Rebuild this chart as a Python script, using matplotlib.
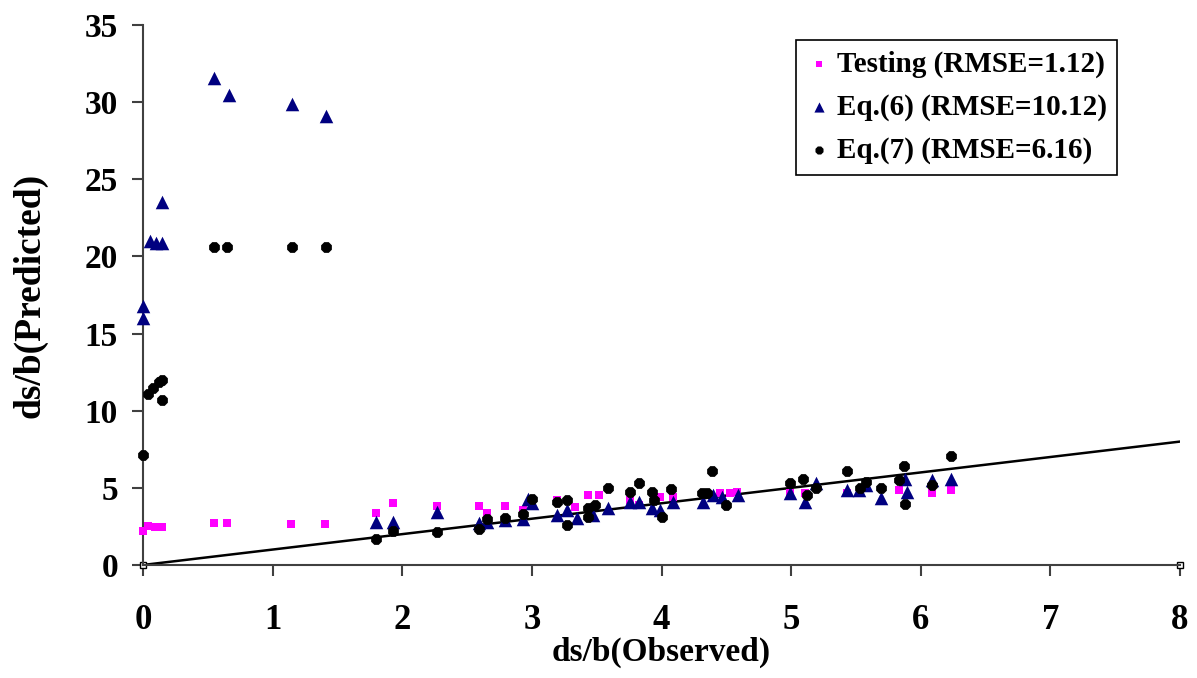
import matplotlib
matplotlib.use('Agg')
import matplotlib.pyplot as plt

# Testing (magenta squares)
test_x = [0.0, 0.04, 0.09, 0.15, 0.55, 0.65, 1.14, 1.40, 1.80, 1.93, 2.27, 2.59, 2.65,
          2.79, 2.93, 3.19, 3.33, 3.43, 3.52, 3.76, 3.83, 3.99, 4.09, 4.45, 4.53, 4.58,
          4.99, 5.11, 5.43, 5.58, 5.83, 6.09, 6.23]
test_y = [2.2, 2.5, 2.45, 2.45, 2.7, 2.7, 2.65, 2.65, 3.4, 4.0, 3.8, 3.8, 3.4,
          3.8, 3.55, 4.2, 3.75, 4.55, 4.55, 4.2, 3.9, 4.4, 4.4, 4.65, 4.65, 4.75,
          4.65, 4.65, 4.65, 5.0, 4.85, 4.65, 4.85]

# Eq.(6) (navy triangles)
eq6_x = [0.0, 0.0, 0.05, 0.10, 0.15, 0.15, 0.55, 0.66, 1.15, 1.41,
         1.80, 1.93, 2.27, 2.59, 2.65, 2.79, 2.93, 2.97, 3.00, 3.19, 3.27, 3.35,
         3.47, 3.59, 3.76, 3.83, 3.93, 3.99, 4.09, 4.32, 4.40, 4.47, 4.59, 4.99,
         5.11, 5.19, 5.43, 5.52, 5.58, 5.69, 5.88, 5.89, 6.09, 6.23]
eq6_y = [16.8, 16.0, 21.0, 20.9, 20.85, 23.5, 31.6, 30.5, 29.9, 29.1,
         2.8, 2.8, 3.45, 2.7, 2.8, 2.9, 3.0, 4.3, 4.0, 3.25, 3.55, 3.05,
         3.25, 3.7, 4.1, 4.1, 3.7, 3.55, 4.1, 4.1, 4.55, 4.4, 4.55, 4.65,
         4.1, 5.3, 4.85, 4.85, 5.2, 4.35, 5.6, 4.7, 5.5, 5.6]

# Eq.(7) (black dots)
eq7_x = [0.0, 0.04, 0.08, 0.12, 0.15, 0.15, 0.55, 0.65, 1.15, 1.41,
         1.80, 1.93, 2.27, 2.59, 2.65, 2.79, 2.93, 3.00, 3.19, 3.27, 3.27, 3.43,
         3.43, 3.49, 3.59, 3.76, 3.83, 3.93, 3.94, 4.00, 4.07, 4.31, 4.35, 4.39,
         4.50, 4.99, 5.09, 5.12, 5.19, 5.43, 5.53, 5.58, 5.69, 5.83, 5.87, 5.88,
         6.09, 6.23]
eq7_y = [7.1, 11.1, 11.5, 11.85, 12.0, 10.7, 20.6, 20.6, 20.6, 20.6,
         1.7, 2.2, 2.15, 2.3, 3.0, 3.05, 3.3, 4.3, 4.1, 4.2, 2.6, 3.7,
         3.1, 3.9, 5.0, 4.75, 5.3, 4.75, 4.2, 3.1, 4.9, 4.65, 4.65, 6.1,
         3.9, 5.3, 5.6, 4.55, 5.0, 6.1, 5.0, 5.4, 5.0, 5.5, 6.4, 3.95,
         5.2, 7.05]

# line of agreement and the two corner markers
line_x = [0, 8]
line_y = [0, 8]
corner_x = [0, 8]
corner_y = [0, 0]

plt.rcParams['font.family'] = ['Liberation Serif', 'DejaVu Serif']
plt.rcParams['font.weight'] = 'bold'

fig = plt.figure(figsize=(11.97, 6.78), dpi=100)
ax = fig.add_axes([0.1195, 0.1667, 0.8663, 0.7963])

ax.plot(line_x, line_y, color='black', lw=1.8, zorder=2)
ax.plot(corner_x, corner_y, ls='none', marker='s', ms=4, mfc='white',
        mec='black', mew=1, zorder=2, clip_on=False)

ax.scatter(test_x, test_y, marker='s', s=40, color='#ff00ff', lw=0,
           label='Testing (RMSE=1.12)', zorder=3, clip_on=False)
ax.scatter(eq6_x, eq6_y, marker='^', s=95, color='#000080', lw=0,
           label='Eq.(6) (RMSE=10.12)', zorder=4, clip_on=False)
ax.scatter(eq7_x, eq7_y, marker='8', s=70, color='black', lw=0,
           label='Eq.(7) (RMSE=6.16)', zorder=5, clip_on=False)

ax.set_xlim(0, 8)
ax.set_ylim(0, 35)
ax.set_xticks(range(0, 9))
ax.set_yticks(range(0, 36, 5))

for s in ['top', 'right']:
    ax.spines[s].set_visible(False)
for s in ['left', 'bottom']:
    ax.spines[s].set_color('#404040')
    ax.spines[s].set_linewidth(1.5)

ax.tick_params(axis='both', direction='out', length=8, width=1.5, color='#404040')
ax.tick_params(axis='y', pad=10, labelsize=24)
ax.tick_params(axis='x', pad=20, labelsize=25)
for lab in ax.get_xticklabels() + ax.get_yticklabels():
    lab.set_fontweight('bold')

ax.set_xlabel('ds/b(Observed)', fontsize=24, fontweight='bold', labelpad=0)
ax.set_ylabel('ds/b(Predicted)', fontsize=27, fontweight='bold', labelpad=27)

leg = ax.legend(loc='upper right', bbox_to_anchor=(0.939, 0.972),
                markerscale=0.75, handletextpad=0.15, handlelength=0.9,
                borderpad=0.35, labelspacing=0.55, borderaxespad=0,
                fancybox=False, framealpha=1, edgecolor='black',
                prop={'weight': 'bold', 'size': 21})
leg.get_frame().set_linewidth(1.2)

fig.savefig('out.png', dpi=100)
